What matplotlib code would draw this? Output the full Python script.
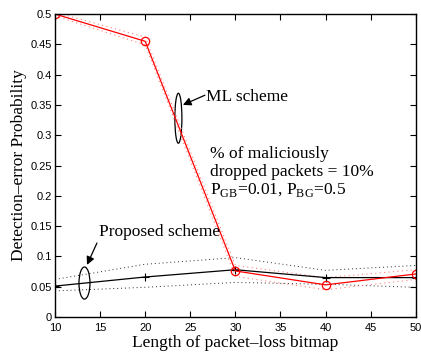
import matplotlib
matplotlib.use("Agg")
import matplotlib.pyplot as plt
from matplotlib.patches import Ellipse

# bitmap lengths
bitmap_len = [10, 20, 30, 40, 50]

# ML scheme: mean and dotted confidence bounds
ml_mean = [0.500, 0.455, 0.076, 0.053, 0.071]
ml_upper = [0.503, 0.462, 0.085, 0.065, 0.078]
ml_lower = [0.497, 0.449, 0.067, 0.045, 0.062]

# proposed scheme
prop_mean = [0.051, 0.066, 0.078, 0.065, 0.065]
prop_upper = [0.062, 0.087, 0.098, 0.077, 0.085]
prop_lower = [0.043, 0.049, 0.057, 0.054, 0.049]

x_ticks = [10, 15, 20, 25, 30, 35, 40, 45, 50]
y_ticks = [0, 0.05, 0.1, 0.15, 0.2, 0.25, 0.3, 0.35, 0.4, 0.45, 0.5]
y_tick_labels = ["0", "0.05", "0.1", "0.15", "0.2", "0.25", "0.3", "0.35", "0.4", "0.45", "0.5"]

plt.rcParams["mathtext.fontset"] = "custom"
plt.rcParams["mathtext.rm"] = "Liberation Serif"
SERIF = "Liberation Serif"
SANS = "Liberation Sans"

fig = plt.figure(figsize=(4.21, 3.56), dpi=100)
ax = fig.add_axes([0.1306, 0.1096, 0.857, 0.851])

dots = (0, (1, 3))
ax.plot(bitmap_len, prop_upper, color="k", lw=0.7, ls=dots, alpha=0.85)
ax.plot(bitmap_len, prop_lower, color="k", lw=0.7, ls=dots, alpha=0.85)
ax.plot(bitmap_len, ml_upper, color="#ff8080", lw=0.8, ls=dots)
ax.plot(bitmap_len, ml_lower, color="#ff8080", lw=0.8, ls=dots)
ax.plot(bitmap_len, prop_mean, color="k", lw=0.9, marker="+", ms=6, mew=0.8)
ax.plot(bitmap_len, ml_mean, color="red", lw=0.9, marker="o", ms=6,
        mfc="none", mec="red", mew=0.9)

ax.set_xlim(10, 50)
ax.set_ylim(0, 0.5)
ax.set_xticks(x_ticks)
ax.set_yticks(y_ticks)
ax.set_yticklabels(y_tick_labels)
ax.tick_params(direction="in", length=4, width=0.8, top=True, right=True,
               labelsize=8, pad=2)
ax.tick_params(axis="x", pad=4)
for lab in ax.get_xticklabels() + ax.get_yticklabels():
    lab.set_fontfamily(SANS)
for sp in ax.spines.values():
    sp.set_linewidth(1.0)

ax.set_xlabel("Length of packet\u2013loss bitmap", fontfamily=SERIF, fontsize=12.5, labelpad=2)
ax.set_ylabel("Detection\u2013error Probability", fontfamily=SERIF, fontsize=12.5, labelpad=3)

# ellipses marking the curves
ax.add_patch(Ellipse((23.68, 0.328), 0.78, 0.0825, fill=False, ec="k", lw=0.9))
ax.add_patch(Ellipse((13.27, 0.056), 1.22, 0.053, fill=False, ec="k", lw=0.9))

arrow = dict(arrowstyle="-|>", color="k", lw=0.9, mutation_scale=12,
             shrinkA=0, shrinkB=0)
ax.text(26.75, 0.363, "ML scheme", fontfamily=SERIF, fontsize=12.5,
        va="center", ha="left")
ax.annotate("", xy=(24.18, 0.350), xytext=(26.62, 0.366), arrowprops=arrow)

ax.text(14.9, 0.140, "Proposed scheme", fontfamily=SERIF, fontsize=12.5,
        va="center", ha="left")
ax.annotate("", xy=(13.55, 0.086), xytext=(14.65, 0.122), arrowprops=arrow)

ax.text(27.2, 0.282,
        "% of maliciously\ndropped packets = 10%\n"
        "P$_{\\mathregular{GB}}$=0.01, P$_{\\mathregular{BG}}$=0.5",
        fontfamily=SERIF, fontsize=12.5, va="top", ha="left", linespacing=1.12)

fig.savefig("out.png", dpi=100)
